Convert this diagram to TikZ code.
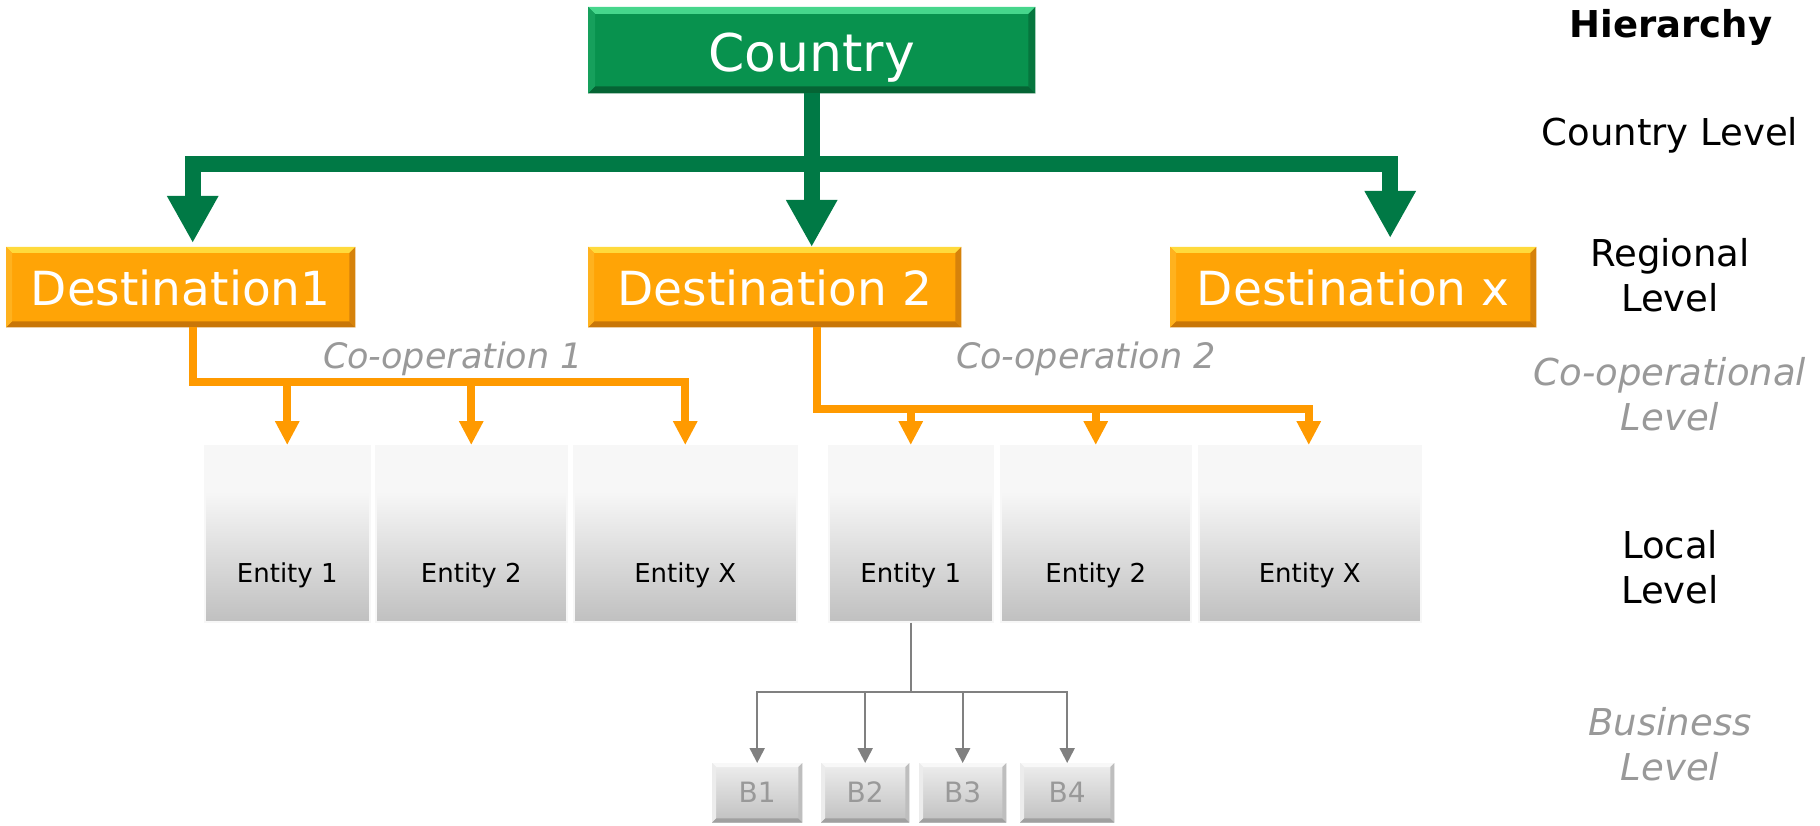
\documentclass[tikz,border=0pt]{standalone}
\usepackage{fontspec}
\setmainfont{DejaVu Sans}
\usetikzlibrary{arrows.meta}

\definecolor{grnline}{RGB}{0,121,69}
\definecolor{grnfill}{RGB}{8,146,78}
\definecolor{grnhi}{RGB}{70,214,140}
\definecolor{grnside}{RGB}{22,160,92}
\definecolor{grnrside}{RGB}{6,118,62}
\definecolor{grnlo}{RGB}{5,100,52}
\definecolor{orgline}{RGB}{255,154,0}
\definecolor{orgfill}{RGB}{255,164,6}
\definecolor{orghi}{RGB}{255,218,60}
\definecolor{orgside}{RGB}{255,178,30}
\definecolor{orgrside}{RGB}{214,130,10}
\definecolor{orglo}{RGB}{200,118,8}
\definecolor{enttop}{RGB}{247,247,247}
\definecolor{entbot}{RGB}{192,192,192}
\definecolor{bfill}{RGB}{226,226,226}
\definecolor{bhi}{RGB}{248,248,248}
\definecolor{bside}{RGB}{236,236,236}
\definecolor{brside}{RGB}{190,190,190}
\definecolor{blo}{RGB}{160,160,160}
\definecolor{gryline}{RGB}{128,128,128}
\definecolor{labgray}{RGB}{153,153,153}

\pgfdeclareverticalshading{entityshade}{100bp}{color(0bp)=(entbot); color(25bp)=(entbot); color(62bp)=(enttop); color(75bp)=(enttop); color(100bp)=(enttop)}

% bevelled edges: node, top, left, right, bottom colour, bevel size
\newcommand\bevelbox[6]{%
  \fill[#2] (#1.north west) -- (#1.north east) -- ([xshift=-#6,yshift=-#6]#1.north east) -- ([xshift=#6,yshift=-#6]#1.north west) -- cycle;
  \fill[#5] (#1.south west) -- (#1.south east) -- ([xshift=-#6,yshift=#6]#1.south east) -- ([xshift=#6,yshift=#6]#1.south west) -- cycle;
  \fill[#3] (#1.north west) -- ([xshift=#6,yshift=-#6]#1.north west) -- ([xshift=#6,yshift=#6]#1.south west) -- (#1.south west) -- cycle;
  \fill[#4] (#1.north east) -- ([xshift=-#6,yshift=-#6]#1.north east) -- ([xshift=-#6,yshift=#6]#1.south east) -- (#1.south east) -- cycle;
}

\tikzset{
  box/.style={rectangle, inner sep=0pt, anchor=north west, minimum height=#1},
  countrybox/.style={box=86pt, fill=grnfill, minimum width=447pt},
  destbox/.style={box=80pt, fill=orgfill},
  entitybox/.style={box=176pt, shading=entityshade, draw=white!97!black, line width=1.5pt},
  entitytext/.style={anchor=base, font=\fontsize{26}{30}\selectfont},
  bizbox/.style={box=59pt, top color=bfill!60!white, bottom color=bfill!85!black},
  boxtext/.style={text=white, text depth=0pt},
  leveltext/.style={anchor=base, font=\fontsize{37}{45}\selectfont},
  levelsoft/.style={leveltext, text=labgray, font=\fontsize{37}{45}\selectfont\itshape},
  cooptext/.style={anchor=base, text=labgray, font=\fontsize{35}{40}\selectfont\itshape},
  grnarrow/.style={draw=grnline, line width=16pt, line join=miter,
    -{Triangle[width=48pt,length=47pt]}},
  orgarrow/.style={draw=orgline, line width=8pt, line join=miter,
    -{Triangle[width=23pt,length=24pt]}},
  gryarrow/.style={draw=gryline, line width=2pt,
    -{Triangle[width=15pt,length=15pt]}},
}

\begin{document}
\begin{tikzpicture}[x=1pt,y=-1pt]
\useasboundingbox (0,0) rectangle (1820,826);

% top level
\node[countrybox] (c) at (588,7) {};
\bevelbox{c}{grnhi}{grnside}{grnrside}{grnlo}{7pt}
\node[boxtext, font=\fontsize{52}{60}\selectfont, text height=42pt] (ct) at (c.center) {Country};

% regional level
\node[destbox, minimum width=349pt] (d1) at (6,247) {};
\node[destbox, minimum width=373pt] (d2) at (588,247) {};
\node[destbox, minimum width=366pt] (dx) at (1170,247) {};
\foreach \n/\t in {d1/Destination1, d2/Destination 2, dx/Destination x}{
  \bevelbox{\n}{orghi}{orgside}{orgrside}{orglo}{6pt}
  \node[boxtext, font=\fontsize{47}{54}\selectfont, text height=36pt] at (\n.center) {\t};
}

% local level
\node[entitybox, minimum width=165pt] (l1) at (204,445) {};
\node[entitybox, minimum width=191pt] (l2) at (375,445) {};
\node[entitybox, minimum width=223pt] (lx) at (573,445) {};
\node[entitybox, minimum width=164pt] (r1) at (828,445) {};
\node[entitybox, minimum width=190pt] (r2) at (1000,445) {};
\node[entitybox, minimum width=222pt] (rx) at (1198,445) {};
\node[entitytext] (tl1) at (l1.center |- 0,582) {Entity 1};
\node[entitytext] (tl2) at (l2.center |- 0,582) {Entity 2};
\node[entitytext] (tlx) at (lx.center |- 0,582) {Entity X};
\node[entitytext] (tr1) at (r1.center |- 0,582) {Entity 1};
\node[entitytext] (tr2) at (r2.center |- 0,582) {Entity 2};
\node[entitytext] (trx) at (rx.center |- 0,582) {Entity X};

% business level
\node[bizbox, minimum width=90pt] (b1) at (712,763) {};
\node[bizbox, minimum width=88pt] (b2) at (821,763) {};
\node[bizbox, minimum width=87pt] (b3) at (919,763) {};
\node[bizbox, minimum width=94pt] (b4) at (1020,763) {};
\foreach \n/\t in {b1/B1, b2/B2, b3/B3, b4/B4}{
  \bevelbox{\n}{bhi}{bside}{brside}{blo}{4pt}
  \node[boxtext, text=labgray, font=\fontsize{28}{30}\selectfont, text height=20pt] at (\n.center) {\t};
}

% country to destinations
\coordinate (gbus) at (0,164.5);
\draw[grnarrow] (c.south |- gbus) -| ([xshift=12pt,yshift=4pt]d1.north);
\draw[grnarrow] (c.south |- gbus) -| ([xshift=37pt,yshift=9pt]dx.north);
\draw[grnarrow] (c.south) -- (c.south |- d2.north);

% co-operations
\coordinate (busA) at (0,382);
\coordinate (busB) at (0,409);
\draw[orgarrow] ([xshift=12pt]d1.south) |- (lx.north |- busA) -- (lx.north);
\draw[orgarrow] (l1.north |- busA) -- (l1.north);
\draw[orgarrow] (l2.north |- busA) -- (l2.north);
\draw[orgarrow] ([xshift=42.5pt]d2.south) |- ([xshift=-1pt]rx.north |- busB) -- ([xshift=-1pt]rx.north);
\draw[orgarrow] (r1.north |- busB) -- (r1.north);
\draw[orgarrow] (r2.north |- busB) -- (r2.north);
\node[cooptext] (co1) at (453,368) {Co-operation 1};
\node[cooptext] (co2) at (1086,368) {Co-operation 2};

% entity to businesses
\coordinate (busC) at (0,692);
\draw[draw=gryline, line width=2pt] (r1.south) -- (r1.south |- busC);
\foreach \n in {b1,b2,b3,b4}{
  \draw[gryarrow] (r1.south |- busC) -| (\n.north);
}

% hierarchy column (two-line labels sit on the baseline of their last line)
\node[leveltext, font=\fontsize{37}{45}\selectfont\bfseries] (h0) at (1671,38) {Hierarchy};
\node[leveltext] (h1) at (1670,146) {Country Level};
\node[leveltext, align=center] (h2) at (1670,312) {Regional\\Level};
\node[levelsoft, align=center] (h3) at (1670,430) {Co-operational\\Level};
\node[leveltext, align=center] (h4) at (1670,603) {Local\\Level};
\node[levelsoft, align=center] (h5) at (1670,780) {Business\\Level};
\end{tikzpicture}
\end{document}
